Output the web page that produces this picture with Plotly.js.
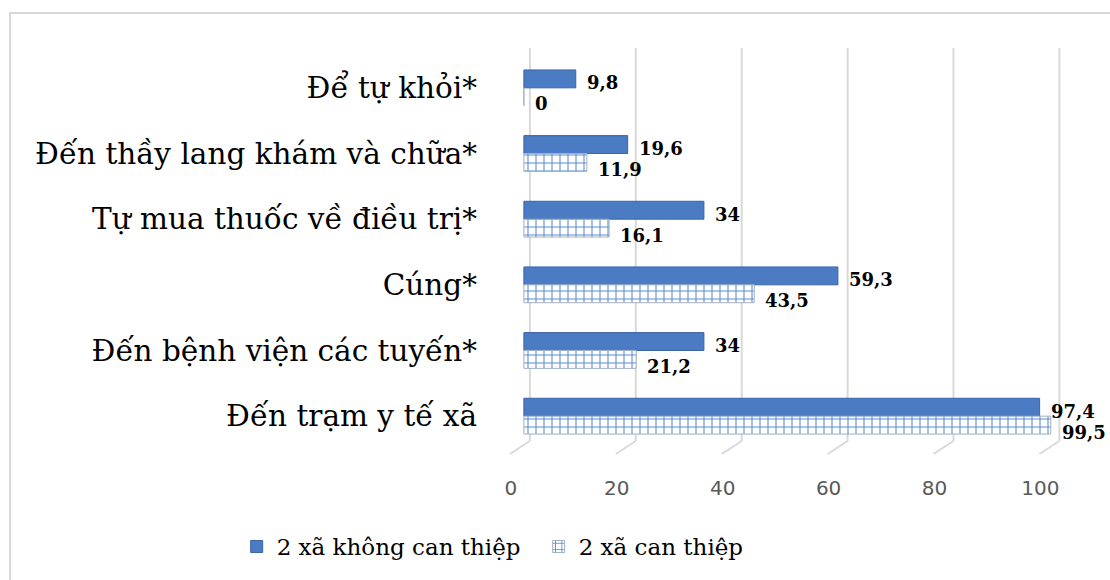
<!DOCTYPE html>
<html>
<head>
<meta charset="utf-8">
<script src="https://cdn.plot.ly/plotly-3.0.1.min.js"></script>
<style>
  html, body { margin: 0; padding: 0; background: #ffffff; overflow: hidden; }
  #wrap { position: relative; width: 1110px; height: 580px; overflow: hidden; }
  #chart { width: 1110px; height: 580px; }
  #frame { position: absolute; left: 9px; top: 12px; width: 1200px; height: 700px;
           border: 2px solid #d9d9d9; pointer-events: none; box-sizing: border-box; }
</style>
</head>
<body>
<div id="wrap">
  <div id="chart"></div>
  <div id="frame"></div>
</div>
<script>
// Hình thức xử trí khi mắc bệnh (%)
const categories = [
  'Để tự khỏi*',
  'Đến thầy lang khám và chữa*',
  'Tự mua thuốc về điều trị*',
  'Cúng*',
  'Đến bệnh viện các tuyến*',
  'Đến trạm y tế xã'
];
const khongCanThiep = [9.8, 19.6, 34, 59.3, 34, 97.4];
const canThiep = [0, 11.9, 16.1, 43.5, 21.2, 99.5];
const xTicks = [0, 20, 40, 60, 80, 100];
const seriesNames = ['2 xã không can thiệp', '2 xã can thiệp'];

const traces = [
  {
    type: 'bar', orientation: 'h', name: seriesNames[0],
    y: categories, x: khongCanThiep,
    marker: { color: '#4a7bc3', line: { color: '#3a64a6', width: 1 } },
    hoverinfo: 'x+y'
  },
  {
    type: 'bar', orientation: 'h', name: seriesNames[1],
    y: categories, x: canThiep,
    marker: {
      color: '#ffffff',
      line: { color: '#9fb0c6', width: 1 },
      pattern: { shape: '+', fgcolor: '#5b8bd0', bgcolor: '#ffffff', size: 8, solidity: 0.25 }
    },
    hoverinfo: 'x+y'
  }
];

// value labels at the end of each bar (decimal comma)
const fmt = function (v) { return String(v).replace('.', ','); };
const labelFont = { family: 'DejaVu Serif', size: 18, color: '#000000', weight: 'bold' };
const annotations = [];
categories.forEach(function (c, i) {
  annotations.push({
    x: khongCanThiep[i], y: c, xref: 'x', yref: 'y', text: fmt(khongCanThiep[i]),
    showarrow: false, xanchor: 'left', yanchor: 'middle', xshift: 9, yshift: 5,
    font: labelFont
  });
  annotations.push({
    x: canThiep[i], y: c, xref: 'x', yref: 'y', text: fmt(canThiep[i]),
    showarrow: false, xanchor: 'left', yanchor: 'middle', xshift: 9, yshift: -16,
    font: labelFont
  });
});

// back-wall gridlines with a slanted foot, one per tick
const shapes = [];
xTicks.forEach(function (v) {
  shapes.push({
    type: 'line', layer: 'below', xref: 'x', yref: 'paper',
    xsizemode: 'pixel', xanchor: v, x0: 6, x1: 6,
    y0: 0.02, y1: 1.018,
    line: { color: '#d9d9d9', width: 2 }
  });
  shapes.push({
    type: 'line', layer: 'below', xref: 'x', yref: 'paper',
    xsizemode: 'pixel', xanchor: v, x0: 6, x1: -14,
    ysizemode: 'pixel', yanchor: 0, y0: 8, y1: -5,
    line: { color: '#d9d9d9', width: 2 }
  });
});

const layout = {
  width: 1110, height: 580,
  margin: { l: 508, r: 46, t: 55, b: 129, pad: 0 },
  paper_bgcolor: '#ffffff', plot_bgcolor: '#ffffff',
  separators: ',.',
  barmode: 'group', bargap: 0.455, bargroupgap: 0,
  showlegend: true,
  legend: {
    orientation: 'h', x: -0.488, xanchor: 'left', y: -0.2475, yanchor: 'middle',
    font: { family: 'DejaVu Serif', size: 23, color: '#000000' },
    itemwidth: 30, traceorder: 'normal',
    entrywidth: 257, entrywidthmode: 'pixels'
  },
  xaxis: {
    range: [-3, 102], tickvals: xTicks, ticktext: xTicks.map(String),
    showgrid: false, zeroline: false, showline: false, ticks: '',
    tickfont: { family: 'DejaVu Sans', size: 20, color: '#595959' },
    ticklabelshift: -13, ticklabelstandoff: 25, fixedrange: true
  },
  yaxis: {
    type: 'category', autorange: 'reversed',
    showgrid: false, zeroline: false, showline: false, ticks: '',
    tickfont: { family: 'DejaVu Serif', size: 29.5, color: '#000000' },
    ticklabelstandoff: 30, fixedrange: true
  },
  annotations: annotations,
  shapes: shapes
};

Plotly.newPlot('chart', traces, layout, { displayModeBar: false, staticPlot: true });
</script>
</body>
</html>
